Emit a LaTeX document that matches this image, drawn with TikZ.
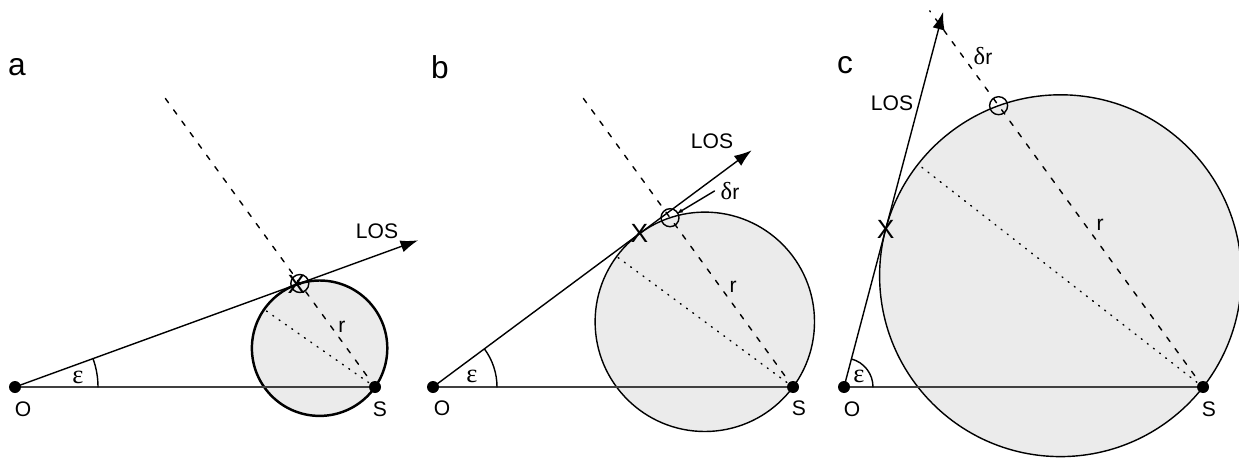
\documentclass[tikz,border=0pt]{standalone}
\usepackage{fontspec}
\setmainfont{Liberation Sans}
\newfontfamily\grk{Liberation Serif}
\usetikzlibrary{arrows.meta}

\begin{document}
\begin{tikzpicture}[x=0.02cm,y=0.02cm,>={Latex[length=10pt,width=7pt]},font=\fontsize{12}{14}\selectfont,line cap=round,
  ray/.style={line width=0.8pt},
  base/.style={black!75,line width=1.1pt},
  zone/.style={fill=black!8,draw=black,line width=0.8pt},
  radial/.style={line width=0.8pt,dash pattern=on 3pt off 5pt},
  diam/.style={line width=0.8pt,dash pattern=on 0.6pt off 3.8pt},
  xmark/.style={inner sep=0pt,font=\fontsize{15}{16}\selectfont},
  greek/.style={font=\fontsize{15}{16}\grk},
  tag/.style={font=\fontsize{18}{20}\selectfont}]
\useasboundingbox (0,0) rectangle (1239,457);
\node[tag] (taga) at (17,390) {a};
\node[tag] (tagb) at (440,390) {b};
\node[tag] (tagc) at (845,392) {c};
% panel a
\begin{scope}[shift={(15,70)}]
\coordinate (Oa) at (0,0);
\coordinate (Sa) at (360,0);
\coordinate (Ca) at (304.6,38.8);
\coordinate (Pa) at (249.1,77.6);
\coordinate (Xa) at (281.4,102.4);
\coordinate (Ma) at (284.8,103.5);
\coordinate (Ea) at (147.2,292.9);
\coordinate (Ta) at (403.1,146.7);
\draw[zone,line width=1.4pt] (Ca) circle (67.7);
\draw[base] (Oa) -- (Sa);
\draw[diam] (Sa) -- (Pa);
\draw[radial] (Sa) -- (Ea);
\draw[ray,->] (Oa) -- (Ta);
\draw[ray] ([shift={(0:83)}]Oa) arc[start angle=0,end angle=20,radius=83];
\draw[ray] (Ma) circle (9);
\node[xmark] (xa) at (Xa) {X};
\fill (Oa) circle (6);
\fill (Sa) circle (6);
\node (oa) at (8,-22) {O};
\node (sa) at (365,-22) {S};
\node (losa) at (362,156) {LOS};
\node (ra) at (327,60) {r};
\node[greek] (ea) at (63,10) {ε};
\end{scope}
% panel b
\begin{scope}[shift={(433,70)}]
\coordinate (Ob) at (0,0);
\coordinate (Sb) at (360,0);
\coordinate (Cb) at (271.8,65.2);
\coordinate (Pb) at (183.7,130.5);
\coordinate (Xb) at (206.4,153.3);
\coordinate (Mb) at (237.0,169.3);
\coordinate (Eb) at (147.8,292.1);
\coordinate (Tb) at (318.7,236.7);
\draw[zone] (Cb) circle (109.7);
\draw[base] (Ob) -- (Sb);
\draw[diam] (Sb) -- (Pb);
\draw[radial] (Sb) -- (Eb);
\draw[ray,->] (Ob) -- (Tb);
\draw[ray] ([shift={(0:64)}]Ob) arc[start angle=0,end angle=36.6,radius=64];
\draw[ray] (Mb) circle (9);
\node[xmark] (xb) at (Xb) {X};
\fill (Ob) circle (6);
\fill (Sb) circle (6);
\node (ob) at (9,-21) {O};
\node (sb) at (366,-21) {S};
\node (losb) at (279,246) {LOS};
\node (drb) at (297,196) {{\fontsize{14}{16}\grk δ}r};
\draw[ray,-{Latex[length=4pt,width=2.5pt]},shorten >=4pt] (drb.west) -- (Mb);
\node (rb) at (300,100) {r};
\node[greek] (eb) at (39,11) {ε};
\end{scope}
% panel c
\begin{scope}[shift={(844,70)}]
\coordinate (Oc) at (0,0);
\coordinate (Sc) at (359,0);
\coordinate (Cc) at (216.5,111.3);
\coordinate (Pc) at (74.0,222.7);
\coordinate (Xc) at (41.6,157.6);
\coordinate (Mc) at (154.6,281.3);
\coordinate (Ec) at (85.7,376.2);
\coordinate (Tc) at (99.1,375.1);
\draw[zone] (Cc) circle (180.9);
\draw[base] (Oc) -- (Sc);
\draw[diam] (Sc) -- (Pc);
\draw[radial] (Sc) -- (Ec);
\draw[ray,->] (Oc) -- (Tc);
\draw[ray] ([shift={(0:29)}]Oc) arc[start angle=0,end angle=75.2,radius=29];
\draw[ray] (Mc) circle (9);
\node[xmark] (xc) at (Xc) {X};
\fill (Oc) circle (6);
\fill (Sc) circle (6);
\node (oc) at (8,-22) {O};
\node (sc) at (365,-22) {S};
\node (losc) at (48,284) {LOS};
\node (drc) at (139,331) {{\fontsize{14}{16}\grk δ}r};
\node (rc) at (256,162) {r};
\node[greek] (ec) at (15,11) {ε};
\end{scope}
\end{tikzpicture}
\end{document}
